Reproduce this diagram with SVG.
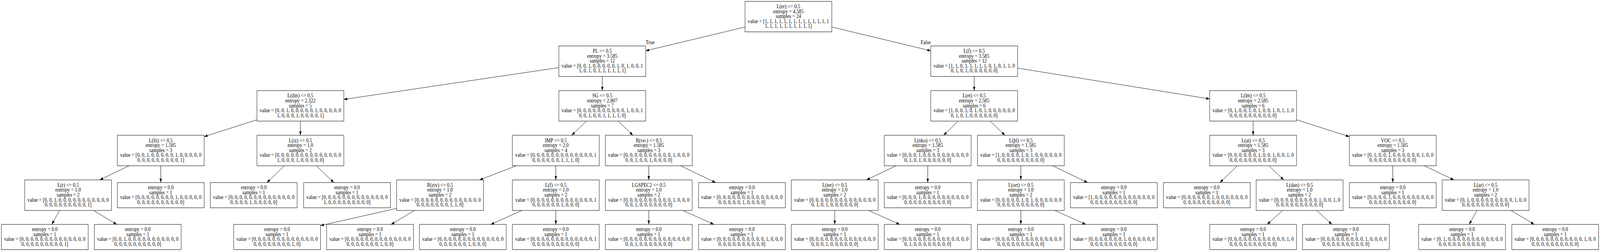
<svg xmlns="http://www.w3.org/2000/svg" width="4698" height="642" viewBox="0 0 4698 642" preserveAspectRatio="none">
<style>
svg{width:100vw;height:100vh;overflow:hidden}
.box{fill:#fff;stroke:#000;stroke-width:1}
.t{font-family:"Liberation Serif","Times New Roman",serif;font-size:14px;text-anchor:middle;fill:#000}
.e{stroke:#000;stroke-width:1;fill:none;marker-end:url(#ah)}
</style>
<defs>
<marker id="ah" markerUnits="userSpaceOnUse" markerWidth="10" markerHeight="7" refX="10" refY="3.5" orient="auto">
<path d="M0,0 L10,3.5 L0,7 z" fill="#000"/>
</marker>
</defs>
<rect x="0" y="0" width="4698" height="642" fill="#fff"/>
<g id="edges">
<path class="e" d="M2187.5,69.1 L1896,129.9"/>
<path class="e" d="M2442.5,69.1 L2733,129.9"/>
<path class="e" d="M1641,172.9 L1009.5,254.3"/>
<path class="e" d="M1768.5,195.5 L1768.5,231.75"/>
<path class="e" d="M2860.5,195.5 L2860.5,231.75"/>
<path class="e" d="M2988,174.3 L3552,253"/>
<path class="e" d="M754.5,306.3 L599.5,349.5"/>
<path class="e" d="M882,309.75 L882,346"/>
<path class="e" d="M1721.9,309.75 L1678.6,346"/>
<path class="e" d="M1815.1,309.75 L1858.4,346"/>
<path class="e" d="M2813.9,309.75 L2770.6,346"/>
<path class="e" d="M2907.3,309.75 L2950.7,346"/>
<path class="e" d="M3679.5,309.75 L3679.5,346"/>
<path class="e" d="M3807,306.3 L3962,349.5"/>
<path class="e" d="M379.1,424 L292.9,460.25"/>
<path class="e" d="M472,424 L472,467"/>
<path class="e" d="M835.2,424 L783.7,467"/>
<path class="e" d="M928.8,424 L980.3,467"/>
<path class="e" d="M1516,424 L1408.1,460.25"/>
<path class="e" d="M1632,424 L1632,460.25"/>
<path class="e" d="M1905,424 L1905,460.25"/>
<path class="e" d="M1998.4,424 L2101.3,467"/>
<path class="e" d="M2630.8,424 L2544.2,460.25"/>
<path class="e" d="M2724,424 L2724,467"/>
<path class="e" d="M2997.5,424 L2997.5,460.25"/>
<path class="e" d="M3090.7,424 L3193.4,467"/>
<path class="e" d="M3633.1,424 L3581.9,467"/>
<path class="e" d="M3726.1,424 L3769.4,460.25"/>
<path class="e" d="M4089.5,424 L4089.5,467"/>
<path class="e" d="M4182.5,424 L4269,460.25"/>
<path class="e" d="M175,538.25 L152.1,574"/>
<path class="e" d="M274.5,538.25 L342.9,574"/>
<path class="e" d="M1164.5,533 L941,577"/>
<path class="e" d="M1217.1,538.25 L1148.4,574"/>
<path class="e" d="M1532.5,538.25 L1441.3,574"/>
<path class="e" d="M1632,538.25 L1632,574"/>
<path class="e" d="M1905,538.25 L1905,574"/>
<path class="e" d="M2004.7,538.25 L2096.1,574"/>
<path class="e" d="M2451,538.25 L2451,574"/>
<path class="e" d="M2550.5,538.25 L2641.7,574"/>
<path class="e" d="M2997.5,538.25 L2997.5,574"/>
<path class="e" d="M3097,538.25 L3188.2,574"/>
<path class="e" d="M3766.2,538.25 L3720.6,574"/>
<path class="e" d="M3865.6,538.25 L3911,574"/>
<path class="e" d="M4336.8,538.25 L4313.8,574"/>
<path class="e" d="M4436.5,538.25 L4504.9,574"/>
<text class="t" x="1909" y="113">True</text>
<text class="t" x="2718" y="113">False</text>
</g>

<g id="n0"><rect class="box" x="2187.5" y="3.5" width="255" height="78"/><text class="t"><tspan x="2315" y="21.1">L(er) &lt;= 0.5</tspan><tspan x="2315" y="33.7">entropy = 4.585</tspan><tspan x="2315" y="46.3">samples = 24</tspan><tspan x="2315" y="58.9">value = [1, 1, 1, 1, 1, 1, 1, 1, 1, 1, 1, 1, 1, 1</tspan><tspan x="2315" y="71.5">1, 1, 1, 1, 1, 1, 1, 1, 1, 1]</tspan></text></g>

<g id="n1"><rect class="box" x="1641" y="117.5" width="255" height="78"/><text class="t"><tspan x="1768.5" y="135.1">PL &lt;= 0.5</tspan><tspan x="1768.5" y="147.7">entropy = 3.585</tspan><tspan x="1768.5" y="160.3">samples = 12</tspan><tspan x="1768.5" y="172.9">value = [0, 0, 1, 0, 0, 0, 0, 0, 1, 0, 1, 0, 0, 1</tspan><tspan x="1768.5" y="185.5">1, 0, 1, 0, 1, 1, 1, 1, 1, 1]</tspan></text></g>

<g id="n2"><rect class="box" x="2733" y="117.5" width="255" height="78"/><text class="t"><tspan x="2860.5" y="135.1">L(f) &lt;= 0.5</tspan><tspan x="2860.5" y="147.7">entropy = 3.585</tspan><tspan x="2860.5" y="160.3">samples = 12</tspan><tspan x="2860.5" y="172.9">value = [1, 1, 0, 1, 1, 1, 1, 1, 0, 1, 0, 1, 1, 0</tspan><tspan x="2860.5" y="185.5">0, 1, 0, 1, 0, 0, 0, 0, 0, 0]</tspan></text></g>

<g id="n3"><rect class="box" x="754.5" y="231.75" width="255" height="78"/><text class="t"><tspan x="882" y="249.35">L(din) &lt;= 0.5</tspan><tspan x="882" y="261.95">entropy = 2.322</tspan><tspan x="882" y="274.55">samples = 5</tspan><tspan x="882" y="287.15">value = [0, 0, 1, 0, 0, 0, 0, 0, 1, 0, 0, 0, 0, 0</tspan><tspan x="882" y="299.75">1, 0, 0, 0, 1, 0, 0, 0, 0, 1]</tspan></text></g>

<g id="n4"><rect class="box" x="1641" y="231.75" width="255" height="78"/><text class="t"><tspan x="1768.5" y="249.35">SG &lt;= 0.5</tspan><tspan x="1768.5" y="261.95">entropy = 2.807</tspan><tspan x="1768.5" y="274.55">samples = 7</tspan><tspan x="1768.5" y="287.15">value = [0, 0, 0, 0, 0, 0, 0, 0, 0, 0, 1, 0, 0, 1</tspan><tspan x="1768.5" y="299.75">0, 0, 1, 0, 0, 1, 1, 1, 1, 0]</tspan></text></g>

<g id="n5"><rect class="box" x="2733" y="231.75" width="255" height="78"/><text class="t"><tspan x="2860.5" y="249.35">L(et) &lt;= 0.5</tspan><tspan x="2860.5" y="261.95">entropy = 2.585</tspan><tspan x="2860.5" y="274.55">samples = 6</tspan><tspan x="2860.5" y="287.15">value = [1, 0, 0, 1, 0, 1, 0, 1, 0, 0, 0, 0, 0, 0</tspan><tspan x="2860.5" y="299.75">0, 1, 0, 1, 0, 0, 0, 0, 0, 0]</tspan></text></g>

<g id="n6"><rect class="box" x="3552" y="231.75" width="255" height="78"/><text class="t"><tspan x="3679.5" y="249.35">L(îm) &lt;= 0.5</tspan><tspan x="3679.5" y="261.95">entropy = 2.585</tspan><tspan x="3679.5" y="274.55">samples = 6</tspan><tspan x="3679.5" y="287.15">value = [0, 1, 0, 0, 1, 0, 1, 0, 0, 1, 0, 1, 1, 0</tspan><tspan x="3679.5" y="299.75">0, 0, 0, 0, 0, 0, 0, 0, 0, 0]</tspan></text></g>

<g id="n7"><rect class="box" x="344.5" y="346" width="255" height="78"/><text class="t"><tspan x="472" y="363.6">L(îti) &lt;= 0.5</tspan><tspan x="472" y="376.2">entropy = 1.585</tspan><tspan x="472" y="388.8">samples = 3</tspan><tspan x="472" y="401.4">value = [0, 0, 1, 0, 0, 0, 0, 0, 1, 0, 0, 0, 0, 0</tspan><tspan x="472" y="414">0, 0, 0, 0, 0, 0, 0, 0, 0, 1]</tspan></text></g>

<g id="n8"><rect class="box" x="754.5" y="346" width="255" height="78"/><text class="t"><tspan x="882" y="363.6">L(iz) &lt;= 0.5</tspan><tspan x="882" y="376.2">entropy = 1.0</tspan><tspan x="882" y="388.8">samples = 2</tspan><tspan x="882" y="401.4">value = [0, 0, 0, 0, 0, 0, 0, 0, 0, 0, 0, 0, 0, 0</tspan><tspan x="882" y="414">1, 0, 0, 0, 1, 0, 0, 0, 0, 0]</tspan></text></g>

<g id="n9"><rect class="box" x="1504.5" y="346" width="255" height="78"/><text class="t"><tspan x="1632" y="363.6">IMP &lt;= 0.5</tspan><tspan x="1632" y="376.2">entropy = 2.0</tspan><tspan x="1632" y="388.8">samples = 4</tspan><tspan x="1632" y="401.4">value = [0, 0, 0, 0, 0, 0, 0, 0, 0, 0, 0, 0, 0, 1</tspan><tspan x="1632" y="414">0, 0, 0, 0, 0, 0, 1, 1, 1, 0]</tspan></text></g>

<g id="n10"><rect class="box" x="1777.5" y="346" width="255" height="78"/><text class="t"><tspan x="1905" y="363.6">R(ve-) &lt;= 0.5</tspan><tspan x="1905" y="376.2">entropy = 1.585</tspan><tspan x="1905" y="388.8">samples = 3</tspan><tspan x="1905" y="401.4">value = [0, 0, 0, 0, 0, 0, 0, 0, 0, 0, 1, 0, 0, 0</tspan><tspan x="1905" y="414">0, 0, 1, 0, 0, 1, 0, 0, 0, 0]</tspan></text></g>

<g id="n11"><rect class="box" x="2596.5" y="346" width="255" height="78"/><text class="t"><tspan x="2724" y="363.6">L(nko) &lt;= 0.5</tspan><tspan x="2724" y="376.2">entropy = 1.585</tspan><tspan x="2724" y="388.8">samples = 3</tspan><tspan x="2724" y="401.4">value = [0, 0, 0, 1, 0, 0, 0, 0, 0, 0, 0, 0, 0, 0</tspan><tspan x="2724" y="414">0, 1, 0, 1, 0, 0, 0, 0, 0, 0]</tspan></text></g>

<g id="n12"><rect class="box" x="2870" y="346" width="255" height="78"/><text class="t"><tspan x="2997.5" y="363.6">L(þî) &lt;= 0.5</tspan><tspan x="2997.5" y="376.2">entropy = 1.585</tspan><tspan x="2997.5" y="388.8">samples = 3</tspan><tspan x="2997.5" y="401.4">value = [1, 0, 0, 0, 0, 1, 0, 1, 0, 0, 0, 0, 0, 0</tspan><tspan x="2997.5" y="414">0, 0, 0, 0, 0, 0, 0, 0, 0, 0]</tspan></text></g>

<g id="n13"><rect class="box" x="3552" y="346" width="255" height="78"/><text class="t"><tspan x="3679.5" y="363.6">L(at) &lt;= 0.5</tspan><tspan x="3679.5" y="376.2">entropy = 1.585</tspan><tspan x="3679.5" y="388.8">samples = 3</tspan><tspan x="3679.5" y="401.4">value = [0, 0, 0, 0, 0, 0, 1, 0, 0, 1, 0, 0, 1, 0</tspan><tspan x="3679.5" y="414">0, 0, 0, 0, 0, 0, 0, 0, 0, 0]</tspan></text></g>

<g id="n14"><rect class="box" x="3962" y="346" width="255" height="78"/><text class="t"><tspan x="4089.5" y="363.6">VOC &lt;= 0.5</tspan><tspan x="4089.5" y="376.2">entropy = 1.585</tspan><tspan x="4089.5" y="388.8">samples = 3</tspan><tspan x="4089.5" y="401.4">value = [0, 1, 0, 0, 1, 0, 0, 0, 0, 0, 0, 1, 0, 0</tspan><tspan x="4089.5" y="414">0, 0, 0, 0, 0, 0, 0, 0, 0, 0]</tspan></text></g>

<g id="n15"><rect class="box" x="72.5" y="460.25" width="255" height="78"/><text class="t"><tspan x="200" y="477.85">L(r) &lt;= 0.5</tspan><tspan x="200" y="490.45">entropy = 1.0</tspan><tspan x="200" y="503.05">samples = 2</tspan><tspan x="200" y="515.65">value = [0, 0, 1, 0, 0, 0, 0, 0, 0, 0, 0, 0, 0, 0</tspan><tspan x="200" y="528.25">0, 0, 0, 0, 0, 0, 0, 0, 0, 1]</tspan></text></g>

<g id="n16"><rect class="box" x="344.5" y="467" width="255" height="64.5"/><text class="t"><tspan x="472" y="484.15">entropy = 0.0</tspan><tspan x="472" y="496.75">samples = 1</tspan><tspan x="472" y="509.35">value = [0, 0, 0, 0, 0, 0, 0, 0, 1, 0, 0, 0, 0, 0</tspan><tspan x="472" y="521.95">0, 0, 0, 0, 0, 0, 0, 0, 0, 0]</tspan></text></g>

<g id="n17"><rect class="box" x="617.5" y="467" width="255" height="64.5"/><text class="t"><tspan x="745" y="484.15">entropy = 0.0</tspan><tspan x="745" y="496.75">samples = 1</tspan><tspan x="745" y="509.35">value = [0, 0, 0, 0, 0, 0, 0, 0, 0, 0, 0, 0, 0, 0</tspan><tspan x="745" y="521.95">0, 0, 0, 0, 1, 0, 0, 0, 0, 0]</tspan></text></g>

<g id="n18"><rect class="box" x="891.5" y="467" width="255" height="64.5"/><text class="t"><tspan x="1019" y="484.15">entropy = 0.0</tspan><tspan x="1019" y="496.75">samples = 1</tspan><tspan x="1019" y="509.35">value = [0, 0, 0, 0, 0, 0, 0, 0, 0, 0, 0, 0, 0, 0</tspan><tspan x="1019" y="521.95">1, 0, 0, 0, 0, 0, 0, 0, 0, 0]</tspan></text></g>

<g id="n19"><rect class="box" x="1164.5" y="460.25" width="255" height="78"/><text class="t"><tspan x="1292" y="477.85">R(ziv) &lt;= 0.5</tspan><tspan x="1292" y="490.45">entropy = 1.0</tspan><tspan x="1292" y="503.05">samples = 2</tspan><tspan x="1292" y="515.65">value = [0, 0, 0, 0, 0, 0, 0, 0, 0, 0, 0, 0, 0, 0</tspan><tspan x="1292" y="528.25">0, 0, 0, 0, 0, 0, 0, 1, 1, 0]</tspan></text></g>

<g id="n20"><rect class="box" x="1504.5" y="460.25" width="255" height="78"/><text class="t"><tspan x="1632" y="477.85">L(f) &lt;= 0.5</tspan><tspan x="1632" y="490.45">entropy = 1.0</tspan><tspan x="1632" y="503.05">samples = 2</tspan><tspan x="1632" y="515.65">value = [0, 0, 0, 0, 0, 0, 0, 0, 0, 0, 0, 0, 0, 1</tspan><tspan x="1632" y="528.25">0, 0, 0, 0, 0, 0, 1, 0, 0, 0]</tspan></text></g>

<g id="n21"><rect class="box" x="1777.5" y="460.25" width="255" height="78"/><text class="t"><tspan x="1905" y="477.85">LGSPEC2 &lt;= 0.5</tspan><tspan x="1905" y="490.45">entropy = 1.0</tspan><tspan x="1905" y="503.05">samples = 2</tspan><tspan x="1905" y="515.65">value = [0, 0, 0, 0, 0, 0, 0, 0, 0, 0, 1, 0, 0, 0</tspan><tspan x="1905" y="528.25">0, 0, 1, 0, 0, 0, 0, 0, 0, 0]</tspan></text></g>

<g id="n22"><rect class="box" x="2051" y="467" width="255" height="64.5"/><text class="t"><tspan x="2178.5" y="484.15">entropy = 0.0</tspan><tspan x="2178.5" y="496.75">samples = 1</tspan><tspan x="2178.5" y="509.35">value = [0, 0, 0, 0, 0, 0, 0, 0, 0, 0, 0, 0, 0, 0</tspan><tspan x="2178.5" y="521.95">0, 0, 0, 0, 0, 1, 0, 0, 0, 0]</tspan></text></g>

<g id="n23"><rect class="box" x="2323.5" y="460.25" width="255" height="78"/><text class="t"><tspan x="2451" y="477.85">L(ter) &lt;= 0.5</tspan><tspan x="2451" y="490.45">entropy = 1.0</tspan><tspan x="2451" y="503.05">samples = 2</tspan><tspan x="2451" y="515.65">value = [0, 0, 0, 0, 0, 0, 0, 0, 0, 0, 0, 0, 0, 0</tspan><tspan x="2451" y="528.25">0, 1, 0, 1, 0, 0, 0, 0, 0, 0]</tspan></text></g>

<g id="n24"><rect class="box" x="2596.5" y="467" width="255" height="64.5"/><text class="t"><tspan x="2724" y="484.15">entropy = 0.0</tspan><tspan x="2724" y="496.75">samples = 1</tspan><tspan x="2724" y="509.35">value = [0, 0, 0, 1, 0, 0, 0, 0, 0, 0, 0, 0, 0, 0</tspan><tspan x="2724" y="521.95">0, 0, 0, 0, 0, 0, 0, 0, 0, 0]</tspan></text></g>

<g id="n25"><rect class="box" x="2870" y="460.25" width="255" height="78"/><text class="t"><tspan x="2997.5" y="477.85">L(ort) &lt;= 0.5</tspan><tspan x="2997.5" y="490.45">entropy = 1.0</tspan><tspan x="2997.5" y="503.05">samples = 2</tspan><tspan x="2997.5" y="515.65">value = [0, 0, 0, 0, 0, 1, 0, 1, 0, 0, 0, 0, 0, 0</tspan><tspan x="2997.5" y="528.25">0, 0, 0, 0, 0, 0, 0, 0, 0, 0]</tspan></text></g>

<g id="n26"><rect class="box" x="3143" y="467" width="255" height="64.5"/><text class="t"><tspan x="3270.5" y="484.15">entropy = 0.0</tspan><tspan x="3270.5" y="496.75">samples = 1</tspan><tspan x="3270.5" y="509.35">value = [1, 0, 0, 0, 0, 0, 0, 0, 0, 0, 0, 0, 0, 0</tspan><tspan x="3270.5" y="521.95">0, 0, 0, 0, 0, 0, 0, 0, 0, 0]</tspan></text></g>

<g id="n27"><rect class="box" x="3416" y="467" width="255" height="64.5"/><text class="t"><tspan x="3543.5" y="484.15">entropy = 0.0</tspan><tspan x="3543.5" y="496.75">samples = 1</tspan><tspan x="3543.5" y="509.35">value = [0, 0, 0, 0, 0, 0, 1, 0, 0, 0, 0, 0, 0, 0</tspan><tspan x="3543.5" y="521.95">0, 0, 0, 0, 0, 0, 0, 0, 0, 0]</tspan></text></g>

<g id="n28"><rect class="box" x="3688.5" y="460.25" width="255" height="78"/><text class="t"><tspan x="3816" y="477.85">L(dan) &lt;= 0.5</tspan><tspan x="3816" y="490.45">entropy = 1.0</tspan><tspan x="3816" y="503.05">samples = 2</tspan><tspan x="3816" y="515.65">value = [0, 0, 0, 0, 0, 0, 0, 0, 0, 1, 0, 0, 1, 0</tspan><tspan x="3816" y="528.25">0, 0, 0, 0, 0, 0, 0, 0, 0, 0]</tspan></text></g>

<g id="n29"><rect class="box" x="3962" y="467" width="255" height="64.5"/><text class="t"><tspan x="4089.5" y="484.15">entropy = 0.0</tspan><tspan x="4089.5" y="496.75">samples = 1</tspan><tspan x="4089.5" y="509.35">value = [0, 0, 0, 0, 1, 0, 0, 0, 0, 0, 0, 0, 0, 0</tspan><tspan x="4089.5" y="521.95">0, 0, 0, 0, 0, 0, 0, 0, 0, 0]</tspan></text></g>

<g id="n30"><rect class="box" x="4234.5" y="460.25" width="255" height="78"/><text class="t"><tspan x="4362" y="477.85">L(ar) &lt;= 0.5</tspan><tspan x="4362" y="490.45">entropy = 1.0</tspan><tspan x="4362" y="503.05">samples = 2</tspan><tspan x="4362" y="515.65">value = [0, 1, 0, 0, 0, 0, 0, 0, 0, 0, 0, 1, 0, 0</tspan><tspan x="4362" y="528.25">0, 0, 0, 0, 0, 0, 0, 0, 0, 0]</tspan></text></g>

<g id="n31"><rect class="box" x="4" y="574" width="255" height="64.5"/><text class="t"><tspan x="131.5" y="591.15">entropy = 0.0</tspan><tspan x="131.5" y="603.75">samples = 1</tspan><tspan x="131.5" y="616.35">value = [0, 0, 0, 0, 0, 0, 0, 0, 0, 0, 0, 0, 0, 0</tspan><tspan x="131.5" y="628.95">0, 0, 0, 0, 0, 0, 0, 0, 0, 1]</tspan></text></g>

<g id="n32"><rect class="box" x="277" y="574" width="255" height="64.5"/><text class="t"><tspan x="404.5" y="591.15">entropy = 0.0</tspan><tspan x="404.5" y="603.75">samples = 1</tspan><tspan x="404.5" y="616.35">value = [0, 0, 1, 0, 0, 0, 0, 0, 0, 0, 0, 0, 0, 0</tspan><tspan x="404.5" y="628.95">0, 0, 0, 0, 0, 0, 0, 0, 0, 0]</tspan></text></g>

<g id="n33"><rect class="box" x="686" y="574" width="255" height="64.5"/><text class="t"><tspan x="813.5" y="591.15">entropy = 0.0</tspan><tspan x="813.5" y="603.75">samples = 1</tspan><tspan x="813.5" y="616.35">value = [0, 0, 0, 0, 0, 0, 0, 0, 0, 0, 0, 0, 0, 0</tspan><tspan x="813.5" y="628.95">0, 0, 0, 0, 0, 0, 0, 0, 1, 0]</tspan></text></g>

<g id="n34"><rect class="box" x="959" y="574" width="255" height="64.5"/><text class="t"><tspan x="1086.5" y="591.15">entropy = 0.0</tspan><tspan x="1086.5" y="603.75">samples = 1</tspan><tspan x="1086.5" y="616.35">value = [0, 0, 0, 0, 0, 0, 0, 0, 0, 0, 0, 0, 0, 0</tspan><tspan x="1086.5" y="628.95">0, 0, 0, 0, 0, 0, 0, 1, 0, 0]</tspan></text></g>

<g id="n35"><rect class="box" x="1231.5" y="574" width="255" height="64.5"/><text class="t"><tspan x="1359" y="591.15">entropy = 0.0</tspan><tspan x="1359" y="603.75">samples = 1</tspan><tspan x="1359" y="616.35">value = [0, 0, 0, 0, 0, 0, 0, 0, 0, 0, 0, 0, 0, 0</tspan><tspan x="1359" y="628.95">0, 0, 0, 0, 0, 0, 1, 0, 0, 0]</tspan></text></g>

<g id="n36"><rect class="box" x="1504.5" y="574" width="255" height="64.5"/><text class="t"><tspan x="1632" y="591.15">entropy = 0.0</tspan><tspan x="1632" y="603.75">samples = 1</tspan><tspan x="1632" y="616.35">value = [0, 0, 0, 0, 0, 0, 0, 0, 0, 0, 0, 0, 0, 1</tspan><tspan x="1632" y="628.95">0, 0, 0, 0, 0, 0, 0, 0, 0, 0]</tspan></text></g>

<g id="n37"><rect class="box" x="1777.5" y="574" width="255" height="64.5"/><text class="t"><tspan x="1905" y="591.15">entropy = 0.0</tspan><tspan x="1905" y="603.75">samples = 1</tspan><tspan x="1905" y="616.35">value = [0, 0, 0, 0, 0, 0, 0, 0, 0, 0, 0, 0, 0, 0</tspan><tspan x="1905" y="628.95">0, 0, 1, 0, 0, 0, 0, 0, 0, 0]</tspan></text></g>

<g id="n38"><rect class="box" x="2051" y="574" width="255" height="64.5"/><text class="t"><tspan x="2178.5" y="591.15">entropy = 0.0</tspan><tspan x="2178.5" y="603.75">samples = 1</tspan><tspan x="2178.5" y="616.35">value = [0, 0, 0, 0, 0, 0, 0, 0, 0, 0, 1, 0, 0, 0</tspan><tspan x="2178.5" y="628.95">0, 0, 0, 0, 0, 0, 0, 0, 0, 0]</tspan></text></g>

<g id="n39"><rect class="box" x="2323.5" y="574" width="255" height="64.5"/><text class="t"><tspan x="2451" y="591.15">entropy = 0.0</tspan><tspan x="2451" y="603.75">samples = 1</tspan><tspan x="2451" y="616.35">value = [0, 0, 0, 0, 0, 0, 0, 0, 0, 0, 0, 0, 0, 0</tspan><tspan x="2451" y="628.95">0, 0, 0, 1, 0, 0, 0, 0, 0, 0]</tspan></text></g>

<g id="n40"><rect class="box" x="2596.5" y="574" width="255" height="64.5"/><text class="t"><tspan x="2724" y="591.15">entropy = 0.0</tspan><tspan x="2724" y="603.75">samples = 1</tspan><tspan x="2724" y="616.35">value = [0, 0, 0, 0, 0, 0, 0, 0, 0, 0, 0, 0, 0, 0</tspan><tspan x="2724" y="628.95">0, 1, 0, 0, 0, 0, 0, 0, 0, 0]</tspan></text></g>

<g id="n41"><rect class="box" x="2870" y="574" width="255" height="64.5"/><text class="t"><tspan x="2997.5" y="591.15">entropy = 0.0</tspan><tspan x="2997.5" y="603.75">samples = 1</tspan><tspan x="2997.5" y="616.35">value = [0, 0, 0, 0, 0, 1, 0, 0, 0, 0, 0, 0, 0, 0</tspan><tspan x="2997.5" y="628.95">0, 0, 0, 0, 0, 0, 0, 0, 0, 0]</tspan></text></g>

<g id="n42"><rect class="box" x="3143" y="574" width="255" height="64.5"/><text class="t"><tspan x="3270.5" y="591.15">entropy = 0.0</tspan><tspan x="3270.5" y="603.75">samples = 1</tspan><tspan x="3270.5" y="616.35">value = [0, 0, 0, 0, 0, 0, 0, 1, 0, 0, 0, 0, 0, 0</tspan><tspan x="3270.5" y="628.95">0, 0, 0, 0, 0, 0, 0, 0, 0, 0]</tspan></text></g>

<g id="n43"><rect class="box" x="3552" y="574" width="255" height="64.5"/><text class="t"><tspan x="3679.5" y="591.15">entropy = 0.0</tspan><tspan x="3679.5" y="603.75">samples = 1</tspan><tspan x="3679.5" y="616.35">value = [0, 0, 0, 0, 0, 0, 0, 0, 0, 0, 0, 0, 1, 0</tspan><tspan x="3679.5" y="628.95">0, 0, 0, 0, 0, 0, 0, 0, 0, 0]</tspan></text></g>

<g id="n44"><rect class="box" x="3824.5" y="574" width="255" height="64.5"/><text class="t"><tspan x="3952" y="591.15">entropy = 0.0</tspan><tspan x="3952" y="603.75">samples = 1</tspan><tspan x="3952" y="616.35">value = [0, 0, 0, 0, 0, 0, 0, 0, 0, 1, 0, 0, 0, 0</tspan><tspan x="3952" y="628.95">0, 0, 0, 0, 0, 0, 0, 0, 0, 0]</tspan></text></g>

<g id="n45"><rect class="box" x="4165.5" y="574" width="255" height="64.5"/><text class="t"><tspan x="4293" y="591.15">entropy = 0.0</tspan><tspan x="4293" y="603.75">samples = 1</tspan><tspan x="4293" y="616.35">value = [0, 1, 0, 0, 0, 0, 0, 0, 0, 0, 0, 0, 0, 0</tspan><tspan x="4293" y="628.95">0, 0, 0, 0, 0, 0, 0, 0, 0, 0]</tspan></text></g>

<g id="n46"><rect class="box" x="4439" y="574" width="255" height="64.5"/><text class="t"><tspan x="4566.5" y="591.15">entropy = 0.0</tspan><tspan x="4566.5" y="603.75">samples = 1</tspan><tspan x="4566.5" y="616.35">value = [0, 0, 0, 0, 0, 0, 0, 0, 0, 0, 0, 1, 0, 0</tspan><tspan x="4566.5" y="628.95">0, 0, 0, 0, 0, 0, 0, 0, 0, 0]</tspan></text></g>
</svg>
